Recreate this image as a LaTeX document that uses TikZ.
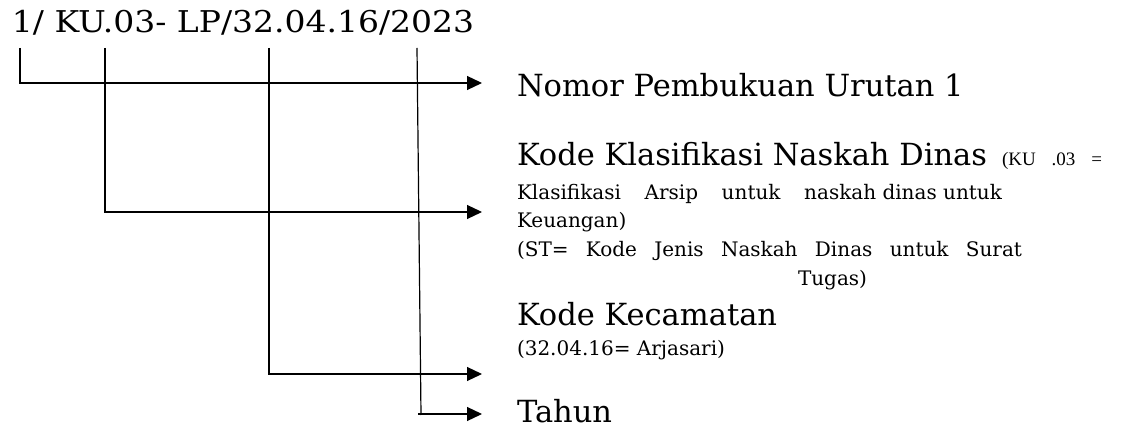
\documentclass[tikz,border=0pt]{standalone}
\usepackage{fontspec}
\setmainfont{DejaVu Serif}
\newfontfamily\timesf{Liberation Serif}
\newfontfamily\codef[FakeStretch=1.1]{DejaVu Serif}
\usetikzlibrary{arrows.meta}
\tikzset{
  lbl/.style={anchor=base west, inner sep=0pt, outer sep=0pt},
  big/.style={lbl, font=\fontsize{30.5}{36}\selectfont},
  small/.style={lbl, font=\fontsize{20}{24}\selectfont},
  wire/.style={line width=1.2pt, black},
  conn/.style={wire, -{Triangle[length=15pt,width=14pt]}},
}
\begin{document}
\begin{tikzpicture}[x=1pt,y=-1pt]
\useasboundingbox (0,0) rectangle (1121,430);
% code line
\node[lbl, font=\codef\fontsize{30}{36}\selectfont] (code) at (12,33) {1/ KU.03- LP/32.04.16/2023};
% start / end coordinates
\coordinate (s1) at (20,48);
\coordinate (s2) at (105,48);
\coordinate (s3) at (269,48);
\coordinate (s4) at (417,48);
\coordinate (k4) at (421,415);
\coordinate (h4) at (418,414);
\coordinate (e1) at (482,83);
\coordinate (e2) at (482,212);
\coordinate (e3) at (482,374);
\coordinate (e4) at (482,414);
% connectors
\draw[conn] (s1) |- (e1);
\draw[conn] (s2) |- (e2);
\draw[conn] (s3) |- (e3);
\draw[wire] (s4) -- (k4);
\draw[conn] (h4) -- (e4);
% labels
\node[big] (nomor) at (517,97) {Nomor Pembukuan Urutan 1};
\node[big] (klas) at (517,166) {Kode Klasifikasi Naskah Dinas};
\node[lbl, font=\timesf\fontsize{19}{22}\selectfont] (ku) at (1002,166) {\hbox to 100pt{(KU\hfil\ .03\hfil\ =}};
\node[small] (klas1) at (517,200) {\hbox to 485pt{Klasifikasi\hfil\ Arsip\hfil\ untuk\hfil\ naskah dinas untuk}};
\node[small] (klas2) at (517,228) {Keuangan)};
\node[small] (klas3) at (517,257) {\hbox to 505pt{(ST=\hfil\ Kode\hfil\ Jenis\hfil\ Naskah\hfil\ Dinas\hfil\ untuk\hfil\ Surat}};
\node[small] (klas4) at (798,286) {Tugas)};
\node[big] (kec) at (517,325) {Kode Kecamatan};
\node[small] (kec1) at (517,355) {(32.04.16= Arjasari)};
\node[big] (tahun) at (517,422) {Tahun};
\end{tikzpicture}
\end{document}
